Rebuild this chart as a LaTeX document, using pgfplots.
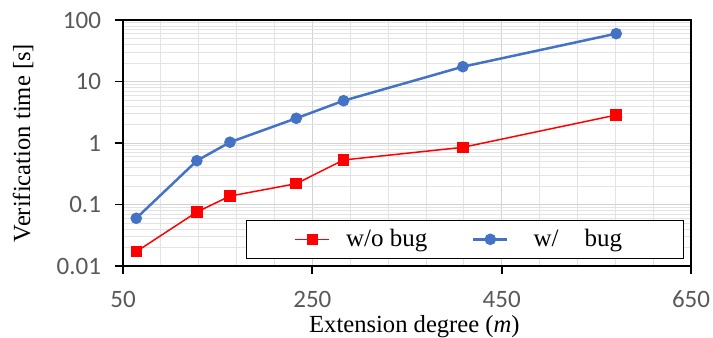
\documentclass[border=0pt]{standalone}
\usepackage{fontspec}
\setmainfont{Liberation Serif}
\newfontfamily\calibri{Carlito}
\usepackage{pgfplots}
\pgfplotsset{compat=1.18}
\usetikzlibrary{calc}
\definecolor{exred}{HTML}{FF0000}
\definecolor{exblue}{HTML}{4472C4}
\definecolor{ticktext}{HTML}{595959}
\begin{document}
\begin{tikzpicture}
\begin{axis}[
  scale only axis,
  width=284pt, height=123pt,
  xmin=50, xmax=650,
  ymode=log, ymin=0.01, ymax=100,
  xtick={50,250,450,650},
  minor xtick={90,130,170,210,290,330,370,410,490,530,570,610},
  ytick={0.01,0.1,1,10,100},
  yticklabels={0.01,0.1,1,10,100},
  xticklabels={50,250,450,650},
  grid=both,
  major grid style={draw=gray!35, line width=0.4pt},
  minor grid style={draw=gray!22, line width=0.4pt},
  axis line style={black, line width=0.9pt},
  tick align=outside,
  xtick pos=bottom, ytick pos=left,
  major tick length=4pt, minor tick length=0pt,
  tick style={black, line width=0.9pt},
  /pgf/number format/assume math mode=true,
  ticklabel style={font=\calibri\fontsize{12.5}{14}\selectfont, text=ticktext},
  xticklabel style={yshift=-5pt},
  yticklabel style={xshift=-3.5pt},
  xlabel={Extension degree (\textit{m})},
  ylabel={Verification time [s]},
  label style={font=\fontsize{12.3}{14}\selectfont},
  xlabel style={at={(axis description cs:0.513,-0.27)}, anchor=base},
  ylabel style={at={(axis description cs:-0.176,0.5)}, anchor=center},
  legend columns=2,
  legend style={at={(0.988,0.028)}, anchor=south east, draw=black, fill=white,
    line width=0.6pt, inner xsep=24pt, inner ysep=2pt,
    font=\fontsize{12.5}{14}\selectfont,
    nodes={inner xsep=0pt, inner ysep=2.5pt},
    column sep=0pt},
  legend image code/.code={\draw[mark repeat=2,mark phase=2] plot coordinates {(0pt,0pt)(8.5pt,0pt)(17pt,0pt)};},
]
\coordinate (bl) at (rel axis cs:0,0);
\coordinate (tr) at (rel axis cs:1,1);
\addplot[color=exred, line width=0.75pt, mark=square*, mark size=2.5pt, mark options={solid, fill=exred}]
  coordinates {(64,0.0171)(128,0.0755)(163,0.137)(233,0.218)(283,0.53)(409,0.85)(571,2.85)};
\addlegendentry{\hspace{8pt}\makebox[63pt][l]{w/o bug}}
\addplot[color=exblue, line width=1.25pt, mark=*, mark size=2.25pt, mark options={solid, fill=exblue}]
  coordinates {(64,0.0597)(128,0.515)(163,1.03)(233,2.52)(283,4.87)(409,17.4)(571,60)};
\addlegendentry{\hspace{12.5pt}\makebox[51pt][l]{w/\hspace{13pt}bug}}
\end{axis}
\pgfresetboundingbox
\path ($(bl)+(-61.5pt,-36pt)$) rectangle ($(tr)+(11pt,10pt)$);
\end{tikzpicture}
\end{document}
